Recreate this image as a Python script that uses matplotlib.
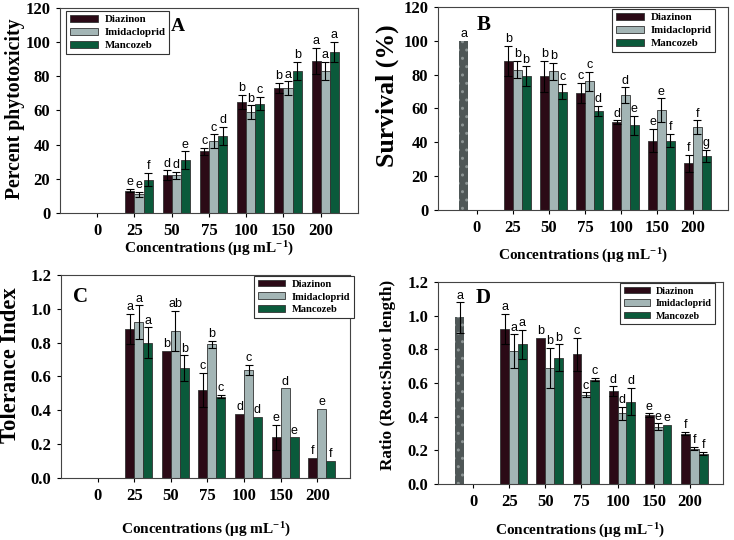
import numpy as np
import matplotlib
matplotlib.use("Agg")
import matplotlib.pyplot as plt
from matplotlib.ticker import FormatStrFormatter

plt.rcParams['font.family'] = 'serif'
plt.rcParams['font.serif'] = ['Liberation Serif', 'DejaVu Serif']
plt.rcParams['font.weight'] = 'bold'
plt.rcParams['axes.labelweight'] = 'bold'
plt.rcParams['mathtext.fontset'] = 'custom'
plt.rcParams['mathtext.rm'] = 'Liberation Serif:bold'
plt.rcParams['mathtext.it'] = 'Liberation Serif:bold'
plt.rcParams['mathtext.bf'] = 'Liberation Serif:bold'
plt.rcParams['hatch.linewidth'] = 1.0

# categories
concentrations = ['0', '25', '50', '75', '100', '150', '200']
series = ['Diazinon', 'Imidacloprid', 'Mancozeb']

# A - percent phytotoxicity (25..200)
phyto_diaz = [13, 22, 36, 65, 73, 89]
phyto_imid = [11, 22, 42, 59, 73, 83]
phyto_manc = [19.5, 31, 45, 64, 83, 94]
phyto_diaz_err = [1, 3, 2, 4, 3, 7.5]
phyto_imid_err = [1.5, 2, 4, 4, 4, 5.5]
phyto_manc_err = [4, 5, 5.5, 4, 5.5, 6]
phyto_diaz_lab = ['e', 'd', 'c', 'b', 'b', 'a']
phyto_imid_lab = ['e', 'd', 'c', 'b', 'a', 'a']
phyto_manc_lab = ['f', 'e', 'd', 'c', 'b', 'a']

# B - survival (%)
surv_ctrl = 100
surv_ctrl_lab = 'a'
surv_diaz = [88, 79, 69, 52, 41, 27.5]
surv_imid = [83, 82, 76, 68, 59, 49]
surv_manc = [79, 70, 58.5, 50, 41, 32]
surv_diaz_err = [9, 9, 6, 1, 7, 5]
surv_imid_err = [5, 5, 5.5, 4.5, 7, 4]
surv_manc_err = [6, 4.5, 3, 5.5, 4, 3.5]
surv_diaz_lab = ['b', 'b', 'c', 'd', 'e', 'f']
surv_imid_lab = ['b', 'b', 'c', 'd', 'e', 'f']
surv_manc_lab = ['b', 'c', 'd', 'e', 'f', 'g']

# C - tolerance index
tol_diaz = [0.88, 0.75, 0.52, 0.38, 0.24, 0.12]
tol_imid = [0.92, 0.87, 0.79, 0.64, 0.53, 0.41]
tol_manc = [0.80, 0.65, 0.48, 0.36, 0.24, 0.10]
tol_diaz_err = [0.09, 0, 0.10, 0, 0.075, 0]
tol_imid_err = [0.10, 0.12, 0.02, 0.03, 0, 0]
tol_manc_err = [0.09, 0.075, 0.01, 0, 0, 0]
tol_diaz_lab = ['a', 'b', 'c', 'd', 'e', 'f']
tol_imid_lab = ['a', 'ab', 'b', 'c', 'd', 'e']
tol_manc_lab = ['a', 'b', 'c', 'd', 'e', 'f']

# D - ratio root:shoot length
ratio_ctrl = 0.99
ratio_ctrl_err = 0.09
ratio_ctrl_lab = 'a'
ratio_diaz = [0.92, 0.87, 0.77, 0.55, 0.41, 0.30]
ratio_imid = [0.79, 0.69, 0.53, 0.42, 0.34, 0.21]
ratio_manc = [0.83, 0.75, 0.62, 0.49, 0.35, 0.18]
ratio_diaz_err = [0.09, 0, 0.10, 0.03, 0.01, 0.01]
ratio_imid_err = [0.10, 0.12, 0.015, 0.04, 0.02, 0.01]
ratio_manc_err = [0.085, 0.08, 0.01, 0.08, 0, 0.01]
ratio_diaz_lab = ['a', 'b', 'c', 'd', 'e', 'f']
ratio_imid_lab = ['a', 'b', 'c', 'd', 'e', 'f']
ratio_manc_lab = ['a', 'b', 'c', 'd', 'e', 'f']

colors = ['#2b0a16', '#a3b5b5', '#0b5a3b']
ctrl_color = '#4f5757'
w = 0.245


def draw_panel(ax, vals, errs, labs, unit, ctrl=None, ctrl_err=0, ctrl_lab=None):
    x = np.arange(1, 7)
    for i in range(3):
        xs = x + (i - 0.5) * w
        ax.bar(xs, vals[i], w, color=colors[i], edgecolor='#333333', linewidth=0.6,
               label=series[i], zorder=2)
        e = np.array(errs[i], dtype=float)
        m = e > 0
        ax.errorbar(xs[m], np.array(vals[i])[m], yerr=e[m], fmt='none', ecolor='black',
                    elinewidth=0.8, capsize=3, capthick=0.8, zorder=3)
        for xx, v, ee, lb in zip(xs, vals[i], e, labs[i]):
            ax.text(xx, v + ee + unit * 0.4, lb, ha='center', va='bottom', fontsize=9,
                    family='Liberation Sans', fontweight='normal', zorder=4)
    if ctrl is not None:
        xc = -1.5 * w
        ax.bar([xc], [ctrl], w, color=ctrl_color, edgecolor='#8c9494', hatch='..',
               linewidth=0.0, zorder=2)
        if ctrl_err > 0:
            ax.errorbar([xc], [ctrl], yerr=[ctrl_err], fmt='none', ecolor='black',
                        elinewidth=0.8, capsize=3, capthick=0.8, zorder=3)
        ax.text(xc, ctrl + ctrl_err + unit * 0.4, ctrl_lab, ha='center', va='bottom',
                fontsize=9, family='Liberation Sans', fontweight='normal', zorder=4)
    ax.set_xticks(np.arange(7))
    ax.set_xticklabels(concentrations)
    ax.tick_params(axis='both', labelsize=12, direction='out', length=3, width=0.8, pad=4)
    for s in ax.spines.values():
        s.set_color('#444444')
        s.set_linewidth(0.8)


fig = plt.figure(figsize=(7.34, 5.40), dpi=100)
axA = fig.add_axes([0.0817, 0.6056, 0.406, 0.380])
axB = fig.add_axes([0.5967, 0.6111, 0.395, 0.376])
axC = fig.add_axes([0.0831, 0.1148, 0.394, 0.376])
axD = fig.add_axes([0.5967, 0.1037, 0.388, 0.374])

draw_panel(axA, [phyto_diaz, phyto_imid, phyto_manc],
           [phyto_diaz_err, phyto_imid_err, phyto_manc_err],
           [phyto_diaz_lab, phyto_imid_lab, phyto_manc_lab], 1.0)
draw_panel(axB, [surv_diaz, surv_imid, surv_manc],
           [surv_diaz_err, surv_imid_err, surv_manc_err],
           [surv_diaz_lab, surv_imid_lab, surv_manc_lab], 1.0,
           ctrl=surv_ctrl, ctrl_lab=surv_ctrl_lab)
draw_panel(axC, [tol_diaz, tol_imid, tol_manc],
           [tol_diaz_err, tol_imid_err, tol_manc_err],
           [tol_diaz_lab, tol_imid_lab, tol_manc_lab], 0.01)
draw_panel(axD, [ratio_diaz, ratio_imid, ratio_manc],
           [ratio_diaz_err, ratio_imid_err, ratio_manc_err],
           [ratio_diaz_lab, ratio_imid_lab, ratio_manc_lab], 0.01,
           ctrl=ratio_ctrl, ctrl_err=ratio_ctrl_err, ctrl_lab=ratio_ctrl_lab)

axA.set_xlim(-1.0, 7.0)
axB.set_xlim(-1.08, 6.97)
axC.set_xlim(-1.0, 6.9)
axD.set_xlim(-0.97, 6.91)
for ax in (axA, axB):
    ax.set_ylim(0, 120)
    ax.set_yticks(np.arange(0, 121, 20))
for ax in (axC, axD):
    ax.set_ylim(0, 1.2)
    ax.set_yticks(np.arange(0, 1.21, 0.2))
    ax.yaxis.set_major_formatter(FormatStrFormatter('%.1f'))

xlab = r'Concentrations ($\mu$g mL$^{-1}$)'
axA.set_xlabel(xlab, fontsize=11, labelpad=1)
axB.set_xlabel(xlab, fontsize=11, labelpad=8)
axC.set_xlabel(xlab, fontsize=11, labelpad=12)
axD.set_xlabel(xlab, fontsize=11, labelpad=9)

fig.text(15 / 734, 1 - 109 / 540, 'Percent phytotoxicity', rotation=90, ha='center', va='center', fontsize=14.2)
fig.text(387 / 734, 1 - 96 / 540, 'Survival (%)', rotation=90, ha='center', va='center', fontsize=18.5)
fig.text(11 / 734, 1 - 365 / 540, 'Tolerance Index', rotation=90, ha='center', va='center', fontsize=16.3)
fig.text(388 / 734, 1 - 375 / 540, 'Ratio (Root:Shoot length)', rotation=90, ha='center', va='center', fontsize=12.4)

axA.text(0.397, 0.907, 'A', transform=axA.transAxes, ha='center', va='center', fontsize=14)
axB.text(0.158, 0.911, 'B', transform=axB.transAxes, ha='center', va='center', fontsize=15)
axC.text(0.066, 0.892, 'C', transform=axC.transAxes, ha='center', va='center', fontsize=15)
axD.text(0.158, 0.92, 'D', transform=axD.transAxes, ha='center', va='center', fontsize=15)

leg_kw = dict(labelspacing=0.35, handlelength=2.6, handleheight=0.6,
              handletextpad=0.6, borderpad=0.35, borderaxespad=0, fancybox=False,
              framealpha=1, edgecolor='#333333', loc='upper left')
for ax, anchor, fs in ((axA, (0.02, 0.985), 7.8), (axB, (0.6, 0.99), 7.8),
                       (axC, (0.668, 0.995), 7.6), (axD, (0.64, 0.995), 7.2)):
    leg = ax.legend(bbox_to_anchor=anchor, fontsize=fs, **leg_kw)
    leg.get_frame().set_linewidth(0.8)

fig.savefig('out.png', dpi=100)
